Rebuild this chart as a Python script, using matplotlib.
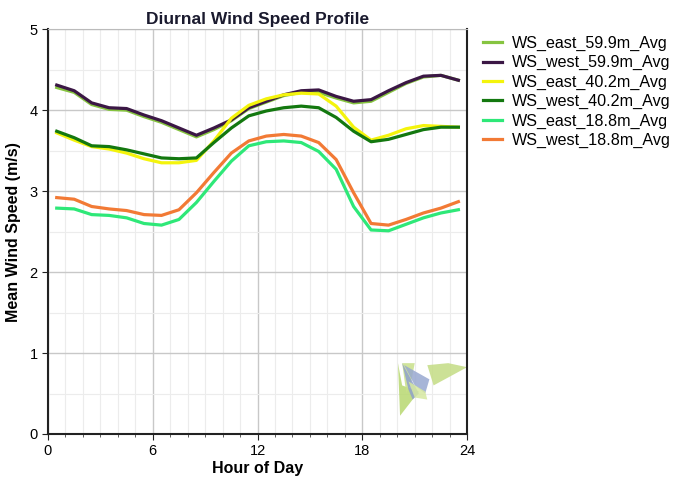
import matplotlib
matplotlib.use("Agg")
import matplotlib.pyplot as plt
import numpy as np
from matplotlib.patches import Polygon
from matplotlib.ticker import MultipleLocator

plt.rcParams["font.family"] = ["Liberation Sans", "DejaVu Sans"]

hours = np.arange(0.5, 24, 1.0)

ws_east_59 = [4.28, 4.22, 4.07, 4.01, 4.00, 3.92, 3.85, 3.76, 3.67, 3.76, 3.87, 4.02,
              4.10, 4.18, 4.22, 4.22, 4.15, 4.09, 4.11, 4.22, 4.33, 4.41, 4.43, 4.37]
ws_west_59 = [4.31, 4.24, 4.09, 4.03, 4.02, 3.94, 3.87, 3.78, 3.69, 3.78, 3.88, 4.03,
              4.11, 4.19, 4.24, 4.25, 4.17, 4.11, 4.13, 4.24, 4.34, 4.42, 4.43, 4.37]
ws_east_40 = [3.72, 3.63, 3.55, 3.52, 3.47, 3.40, 3.35, 3.35, 3.38, 3.62, 3.90, 4.06,
              4.14, 4.19, 4.21, 4.20, 4.05, 3.79, 3.63, 3.69, 3.77, 3.81, 3.80, 3.79]
ws_west_40 = [3.74, 3.66, 3.56, 3.55, 3.51, 3.46, 3.41, 3.40, 3.41, 3.60, 3.78, 3.93,
              3.99, 4.03, 4.05, 4.03, 3.91, 3.74, 3.61, 3.64, 3.70, 3.76, 3.79, 3.79]
ws_east_18 = [2.79, 2.78, 2.71, 2.70, 2.67, 2.60, 2.58, 2.65, 2.86, 3.12, 3.37, 3.56,
              3.61, 3.62, 3.60, 3.49, 3.27, 2.81, 2.52, 2.51, 2.59, 2.67, 2.73, 2.77]
ws_west_18 = [2.92, 2.90, 2.81, 2.78, 2.76, 2.71, 2.70, 2.77, 2.98, 3.23, 3.47, 3.62,
              3.68, 3.70, 3.68, 3.60, 3.39, 2.98, 2.60, 2.58, 2.65, 2.73, 2.79, 2.87]

series = [
    ("WS_east_59.9m_Avg", ws_east_59, "#86c440"),
    ("WS_west_59.9m_Avg", ws_west_59, "#3b1745"),
    ("WS_east_40.2m_Avg", ws_east_40, "#f4f40c"),
    ("WS_west_40.2m_Avg", ws_west_40, "#13780f"),
    ("WS_east_18.8m_Avg", ws_east_18, "#2ee878"),
    ("WS_west_18.8m_Avg", ws_west_18, "#f27a35"),
]

fig = plt.figure(figsize=(6.76, 4.83), dpi=100)
ax = fig.add_axes([0.071, 0.1015, 0.62, 0.838])

# watermark logo (decorative), axes-fraction coordinates
logo = [
    ([(0.835, 0.175), (0.845, 0.12), (0.885, 0.105), (0.84, 0.045)], "#b8d870"),
    ([(0.845, 0.175), (0.875, 0.175), (0.865, 0.12), (0.855, 0.10)], "#c8e08a"),
    ([(0.85, 0.17), (0.91, 0.135), (0.90, 0.10), (0.875, 0.12)], "#98a8d0"),
    ([(0.845, 0.175), (0.885, 0.10), (0.87, 0.085), (0.86, 0.11)], "#8fa0cc"),
    ([(0.92, 0.12), (0.905, 0.17), (0.955, 0.175), (1.0, 0.165)], "#c4dc84"),
    ([(0.86, 0.13), (0.90, 0.105), (0.905, 0.085), (0.875, 0.09)], "#d6e8a0"),
]
for pts, col in logo:
    ax.add_patch(Polygon(pts, closed=True, transform=ax.transAxes,
                         facecolor=col, edgecolor="none", alpha=0.85, zorder=1))

for name, vals, col in series:
    ax.plot(hours, vals, color=col, linewidth=2.3, label=name, zorder=3)

ax.set_xlim(0, 24)
ax.set_ylim(0, 5)
ax.xaxis.set_major_locator(MultipleLocator(6))
ax.xaxis.set_minor_locator(MultipleLocator(1))
ax.yaxis.set_major_locator(MultipleLocator(1))
ax.yaxis.set_minor_locator(MultipleLocator(0.5))
ax.grid(which="major", color="#c8c8c8", linewidth=1.0)
ax.grid(which="minor", color="#ececec", linewidth=0.8)
ax.set_axisbelow(True)
ax.tick_params(which="major", direction="out", length=4, labelsize=10.5, color="#222222")
ax.tick_params(which="minor", axis="x", direction="out", length=2.5, color="#444444")
ax.tick_params(which="minor", axis="y", length=0)

for side in ["left", "bottom", "right"]:
    ax.spines[side].set_color("#222222")
    ax.spines[side].set_linewidth(1.5)
ax.spines["top"].set_color("#bbbbbb")
ax.spines["top"].set_linewidth(0.8)

ax.set_title("Diurnal Wind Speed Profile", fontsize=12.5, fontweight="bold",
             color="#1a1a2e", pad=4)
ax.set_xlabel("Hour of Day", fontsize=11.5, fontweight="bold", labelpad=2)
ax.set_ylabel("Mean Wind Speed (m/s)", fontsize=11.5, fontweight="bold", labelpad=6)

ax.legend(loc="upper left", bbox_to_anchor=(1.022, 1.0), frameon=False,
          fontsize=11.6, handlelength=1.2, handletextpad=0.6,
          labelspacing=0.27, borderaxespad=0)

fig.savefig("out.png", dpi=100)
